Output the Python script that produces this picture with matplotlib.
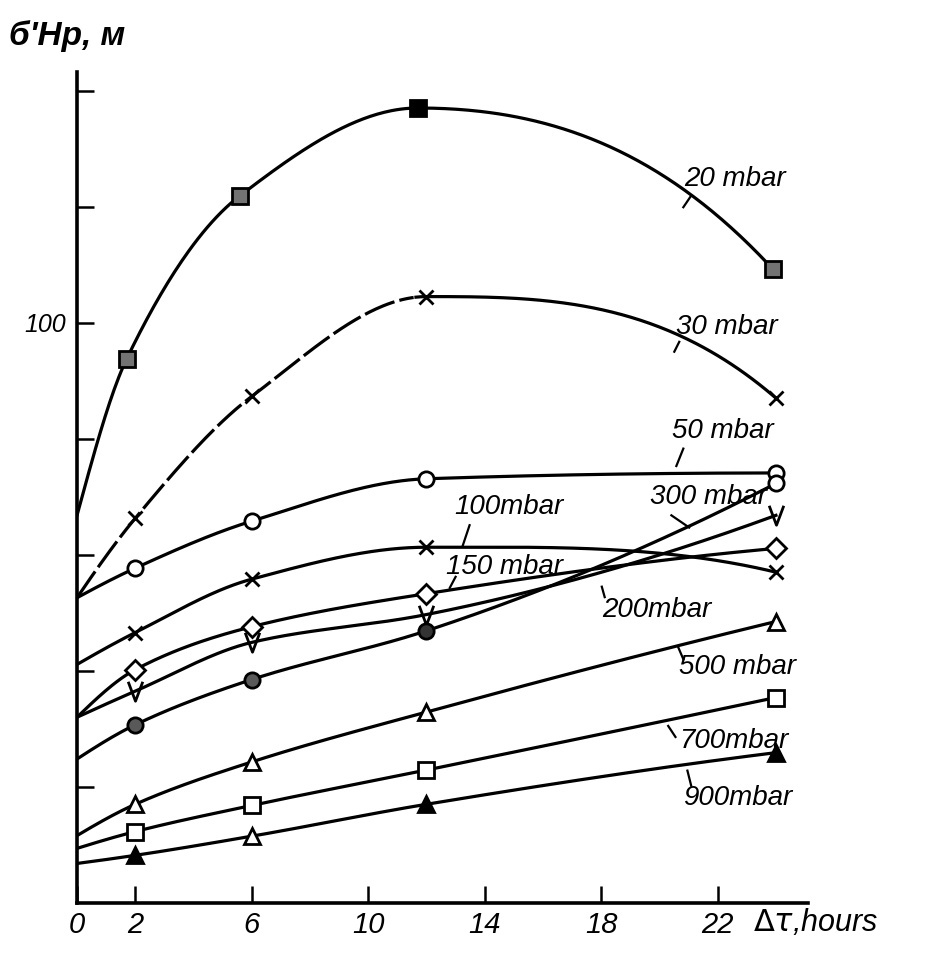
import numpy as np
import matplotlib
matplotlib.use("Agg")
import matplotlib.pyplot as plt
from matplotlib.path import Path

# ---------------- data ----------------
hours = [0, 2, 6, 12, 24]
hours_20 = [0, 1.7, 5.6, 11.7, 23.9]

s20 = [66.8, 93.7, 121.9, 137.0, 109.2]
s30 = [52.6, 66.3, 87.3, 104.5, 87.0]
s50 = [52.6, 57.7, 65.8, 73.1, 74.1]
s100 = [41.1, 46.6, 55.8, 61.3, 57.0]
s150 = [32.0, 40.2, 47.6, 53.3, 61.1]
s200 = [32.0, 36.5, 44.9, 49.7, 66.8]
s300 = [24.8, 30.7, 38.5, 46.9, 72.3]
s500 = [11.6, 17.0, 24.3, 32.9, 48.5]
s700 = [9.4, 12.3, 16.8, 22.9, 35.4]
s900 = [6.8, 8.2, 11.5, 17.0, 25.9]

labels = ["20 mbar", "30 mbar", "50 mbar", "100mbar", "150 mbar",
          "200mbar", "300 mbar", "500 mbar", "700mbar", "900mbar"]

x_ticks = [0, 2, 6, 10, 14, 18, 22]
y_ticks = [20, 40, 60, 80, 100, 120, 140]
y_tick_labels = ["", "", "", "", "100", "", ""]

# ---------------- helpers ----------------
def pchip(x, y, n=300):
    x = np.asarray(x, float); y = np.asarray(y, float)
    h = np.diff(x); d = np.diff(y) / h
    m = np.zeros_like(y)
    for k in range(1, len(x) - 1):
        if d[k - 1] * d[k] <= 0:
            m[k] = 0.0
        else:
            w1 = 2 * h[k] + h[k - 1]; w2 = h[k] + 2 * h[k - 1]
            m[k] = (w1 + w2) / (w1 / d[k - 1] + w2 / d[k])
    m[0] = ((2 * h[0] + h[1]) * d[0] - h[0] * d[1]) / (h[0] + h[1])
    if np.sign(m[0]) != np.sign(d[0]): m[0] = 0
    m[-1] = ((2 * h[-1] + h[-2]) * d[-1] - h[-1] * d[-2]) / (h[-1] + h[-2])
    if np.sign(m[-1]) != np.sign(d[-1]): m[-1] = 0
    xs = np.linspace(x[0], x[-1], n)
    idx = np.clip(np.searchsorted(x, xs) - 1, 0, len(x) - 2)
    t = (xs - x[idx]) / h[idx]
    h00 = 2 * t**3 - 3 * t**2 + 1; h10 = t**3 - 2 * t**2 + t
    h01 = -2 * t**3 + 3 * t**2; h11 = t**3 - t**2
    ys = h00 * y[idx] + h10 * h[idx] * m[idx] + h01 * y[idx + 1] + h11 * h[idx] * m[idx + 1]
    return xs, ys

VEE = Path([(-0.75, 1.0), (0.0, -1.0), (0.75, 1.0)],
           [Path.MOVETO, Path.LINETO, Path.LINETO])

# ---------------- figure ----------------
plt.rcParams['font.family'] = ['Liberation Sans', 'DejaVu Sans']
fig = plt.figure(figsize=(9.45, 9.58), dpi=100)
ax = fig.add_axes([0.0815, 0.0575, 0.7735, 0.8673])

LW = 2.3
K = 'black'

series = [
    (hours_20, s20, 's', ['0.45', '0.45', K, '0.45'], 11),
    (hours, s30, 'x', [K] * 4, 10),
    (hours, s50, 'o', ['white'] * 4, 11),
    (hours, s100, 'x', [K] * 4, 10),
    (hours, s150, 'D', ['white'] * 4, 10),
    (hours, s200, VEE, ['none'] * 4, 14),
    (hours, s300, 'o', ['0.35', '0.35', '0.2', 'white'], 11),
    (hours, s500, '^', ['white'] * 4, 11),
    (hours, s700, 's', ['white'] * 4, 11),
    (hours, s900, '^', [K, 'white', K, K], 11),
]

for i, (xx, yy, mk, fcs, ms) in enumerate(series):
    xs, ys = pchip(xx, yy)
    if i == 1:
        cut = xs <= 11.6
        ax.plot(xs[cut], ys[cut], color=K, lw=LW, dashes=(10, 1.6), solid_capstyle='butt')
        ax.plot(xs[~cut], ys[~cut], color=K, lw=LW)
    else:
        ax.plot(xs, ys, color=K, lw=LW)
    for xv, yv, fc in zip(xx[1:], yy[1:], fcs):
        if isinstance(mk, str) and mk == 'x':
            ax.plot(xv, yv, marker=mk, ms=ms, color=K, mew=2.0, ls='none', zorder=5)
        elif isinstance(mk, Path):
            ax.plot(xv, yv, marker=mk, ms=ms, mfc='none', mec=K, mew=2.0, ls='none', zorder=5)
        else:
            ax.plot(xv, yv, marker=mk, ms=ms, mfc=fc, mec=K, mew=2.0, ls='none', zorder=5)

# ---------------- labels & leaders ----------------
label_pos = [(20.85, 124.7), (20.58, 99.3), (20.44, 81.3), (12.94, 68.2), (12.66, 57.9),
             (18.02, 50.5), (19.66, 70.0), (20.68, 40.6), (20.68, 27.9), (20.82, 18.0)]
leaders = [((21.09, 121.9), (20.82, 119.9)),
           ((20.68, 96.7), (20.51, 95.0)),
           ((20.82, 78.3), (20.58, 75.3)),
           ((13.48, 65.1), (13.24, 61.5)),
           ((13.0, 56.2), (12.8, 54.3)),
           ((18.02, 54.5), (18.12, 52.7)),
           ((20.41, 66.8), (21.02, 64.7)),
           ((20.65, 44.0), (20.82, 42.0)),
           ((20.3, 30.5), (20.55, 28.6)),
           ((20.96, 22.8), (21.09, 20.2))]

for lab, (tx, ty), (p1, p2) in zip(labels, label_pos, leaders):
    ax.text(tx, ty, lab, fontsize=20, style='italic', ha='left', va='center',
            color=K, zorder=6)
    ax.plot([p1[0], p2[0]], [p1[1], p2[1]], color=K, lw=1.6)

# ---------------- axes ----------------
ax.set_xlim(0, 25.1)
ax.set_ylim(0, 143.2)
for s in ['top', 'right']:
    ax.spines[s].set_visible(False)
for s in ['left', 'bottom']:
    ax.spines[s].set_linewidth(2.6)
ax.set_xticks(x_ticks)
ax.set_xticklabels([str(v) for v in x_ticks], fontsize=21, style='italic')
ax.set_yticks(y_ticks)
ax.set_yticklabels(y_tick_labels, fontsize=18, style='italic')
ax.tick_params(axis='x', direction='in', length=12, width=1.8, pad=6)
ax.tick_params(axis='y', direction='in', length=12, width=1.8, pad=8)

fig.text(0.010, 0.962, "б'Нр, м", fontsize=24, style='italic', weight='bold',
         ha='left', va='center')
fig.text(0.797, 0.037, r"$\Delta\tau$,hours", fontsize=22, style='italic',
         ha='left', va='center')

fig.savefig("out.png", dpi=100)
